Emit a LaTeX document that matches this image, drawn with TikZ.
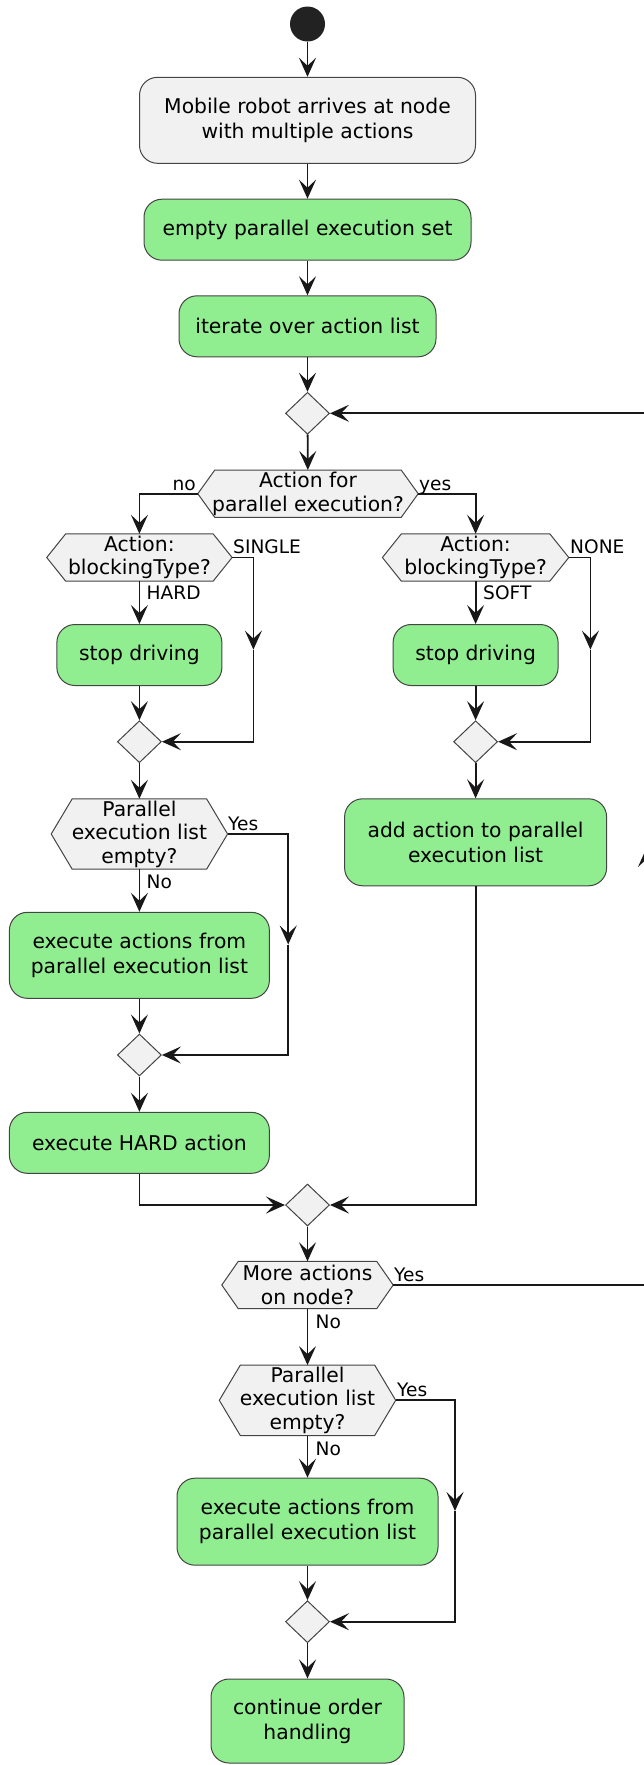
\documentclass[tikz,border=0pt]{standalone}
\usepackage{fontspec}
\setmainfont{DejaVu Sans}
\usetikzlibrary{arrows.meta,shapes.geometric,backgrounds,calc}
\definecolor{actgreen}{HTML}{90EE90}
\definecolor{nodegray}{HTML}{F1F1F1}
\definecolor{bordergray}{HTML}{444444}
\definecolor{linecol}{HTML}{181818}
\definecolor{startcol}{HTML}{222222}
\tikzset{
 act/.style={rectangle, rounded corners=18pt, draw=bordergray, line width=1pt, fill=actgreen, align=center, inner sep=0pt, font=\fontsize{20.3}{25}\selectfont},
 startact/.style={act, fill=nodegray},
 merge/.style={diamond, draw=bordergray, line width=1pt, fill=nodegray, minimum width=44pt, minimum height=42pt, inner sep=0pt},
 hexbox/.style={rectangle, inner sep=0pt, align=center, font=\fontsize{20.3}{23.5}\selectfont},
 hexshape/.style={draw=bordergray, line width=1pt, fill=nodegray},
 conn/.style={draw=linecol, line width=1.8pt, -{Stealth[length=19pt,width=17pt,inset=8pt]}},
 lbl/.style={font=\fontsize{18.6}{22}\selectfont, inner sep=0pt, anchor=base west},
}
\newcommand\hexoutline[2]{%
  \draw[hexshape] (#1.west) -- ([xshift=#2]#1.north west) -- ([xshift=-#2]#1.north east) -- (#1.east) -- ([xshift=-#2]#1.south east) -- ([xshift=#2]#1.south west) -- cycle;}
\begin{document}
\begin{tikzpicture}[x=1pt,y=-1pt]
\useasboundingbox (0,0) rectangle (643,1765);
% nodes
\node[circle, fill=startcol, minimum size=35pt, inner sep=0pt] (start) at (307.5,24) {};
\node[startact, minimum width=336pt, minimum height=86pt] (arrive) at (307.5,120.3) {Mobile robot arrives at node\\with multiple actions};
\node[act, minimum width=327pt, minimum height=61pt] (emptyset) at (307.5,229.7) {empty parallel execution set};
\node[act, minimum width=257pt, minimum height=61pt] (iterate) at (307.5,326.3) {iterate over action list};
\node[merge] (m1) at (307.5,413.3) {};
\node[hexbox, minimum width=220pt, minimum height=47pt] (qpar) at (308,493.7) {Action for\\parallel execution?};
\node[hexbox, minimum width=185pt, minimum height=47pt] (qblkL) at (139.4,557.5) {Action:\\blockingType?};
\node[hexbox, minimum width=186pt, minimum height=47pt] (qblkR) at (475.6,557.5) {Action:\\blockingType?};
\node[act, minimum width=165pt, minimum height=61pt] (stopL) at (139.4,655) {stop driving};
\node[act, minimum width=165pt, minimum height=61pt] (stopR) at (475.6,655) {stop driving};
\node[merge] (m2) at (139.4,741.7) {};
\node[merge] (m3) at (475.6,741.7) {};
\node[hexbox, minimum width=176pt, minimum height=70pt] (qemptyL) at (139.4,834) {Parallel\\execution list\\empty?};
\node[act, minimum width=262pt, minimum height=87pt] (addpar) at (475.6,842.3) {add action to parallel\\execution list};
\node[act, minimum width=260pt, minimum height=86pt] (execL) at (139.4,955.3) {execute actions from\\parallel execution list};
\node[merge] (m4) at (139.4,1055) {};
\node[act, minimum width=260pt, minimum height=61pt] (hard) at (139.4,1142.8) {execute HARD action};
\node[merge] (m5) at (307.5,1205) {};
\node[hexbox, minimum width=171pt, minimum height=47pt] (qmore) at (307.5,1285) {More actions\\on node?};
\node[hexbox, minimum width=176pt, minimum height=70pt] (qemptyB) at (307.5,1400.3) {Parallel\\execution list\\empty?};
\node[act, minimum width=261pt, minimum height=87pt] (execB) at (307.5,1521.7) {execute actions from\\parallel execution list};
\node[merge] (m6) at (307.5,1621.7) {};
\node[act, minimum width=193pt, minimum height=84pt] (cont) at (307.5,1721) {continue order\\handling};
% hexagon outlines
\begin{scope}[on background layer]
\hexoutline{qpar}{17pt}
\hexoutline{qblkL}{19pt}
\hexoutline{qblkR}{19pt}
\hexoutline{qemptyL}{21pt}
\hexoutline{qmore}{16.5pt}
\hexoutline{qemptyB}{21pt}
\end{scope}
% connectors
\draw[conn] (start) -- (arrive);
\draw[conn] (arrive) -- (emptyset);
\draw[conn] (emptyset) -- (iterate);
\draw[conn] (iterate) -- (m1);
\draw[conn] (m1) -- (qpar);
\draw[conn] (qpar.west) -| (qblkL.north);
\draw[conn] (qpar.east) -| (qblkR.north);
\draw[conn] (qblkL) -- (stopL);
\draw[conn] (qblkR) -- (stopR);
\draw[conn] (stopL) -- (m2);
\draw[conn] (stopR) -- (m3);
\coordinate (sglmid) at (253.4,649.6);
\draw[conn] (qblkL.east) -| (sglmid);
\draw[conn] (sglmid) |- (m2.east);
\coordinate (nonemid) at (590.4,649.6);
\draw[conn] (qblkR.east) -| (nonemid);
\draw[conn] (nonemid) |- (m3.east);
\draw[conn] (m2) -- (qemptyL);
\draw[conn] (m3) -- (addpar);
\draw[conn] (qemptyL) -- (execL);
\draw[conn] (execL) -- (m4);
\coordinate (yesLmid) at (288.2,944.5);
\draw[conn] (qemptyL.east) -| (yesLmid);
\draw[conn] (yesLmid) |- (m4.east);
\draw[conn] (m4) -- (hard);
\draw[conn] (hard.south) |- (m5.west);
\draw[conn] (addpar.south) |- (m5.east);
\draw[conn] (m5) -- (qmore);
\draw[conn] (qmore) -- (qemptyB);
\coordinate (loopmid) at (646.5,848);
\draw[conn] (qmore.east) -| (loopmid);
\draw[conn] (loopmid) |- (m1.east);
\draw[conn] (qemptyB) -- (execB);
\coordinate (yesBmid) at (455,1511);
\draw[conn] (qemptyB.east) -| (yesBmid);
\draw[conn] (yesBmid) |- (m6.east);
\draw[conn] (execB) -- (m6);
\draw[conn] (m6) -- (cont);
% labels
\node[lbl, anchor=base east] (lno) at (196,490) {no};
\node[lbl] (lyes) at (419,490) {yes};
\node[lbl] (lsingle) at (233,553.5) {SINGLE};
\node[lbl] (lnone) at (570,553.5) {NONE};
\node[lbl] (lhard) at (146.5,599.5) {HARD};
\node[lbl] (lsoft) at (483,599.5) {SOFT};
\node[lbl] (lyesL) at (228,830.5) {Yes};
\node[lbl] (lnoL) at (146.5,888.5) {No};
\node[lbl] (lyesM) at (394,1281.8) {Yes};
\node[lbl] (lnoM) at (315.5,1328.3) {No};
\node[lbl] (lyesB) at (397,1396.7) {Yes};
\node[lbl] (lnoB) at (315.5,1455) {No};
\end{tikzpicture}
\end{document}
